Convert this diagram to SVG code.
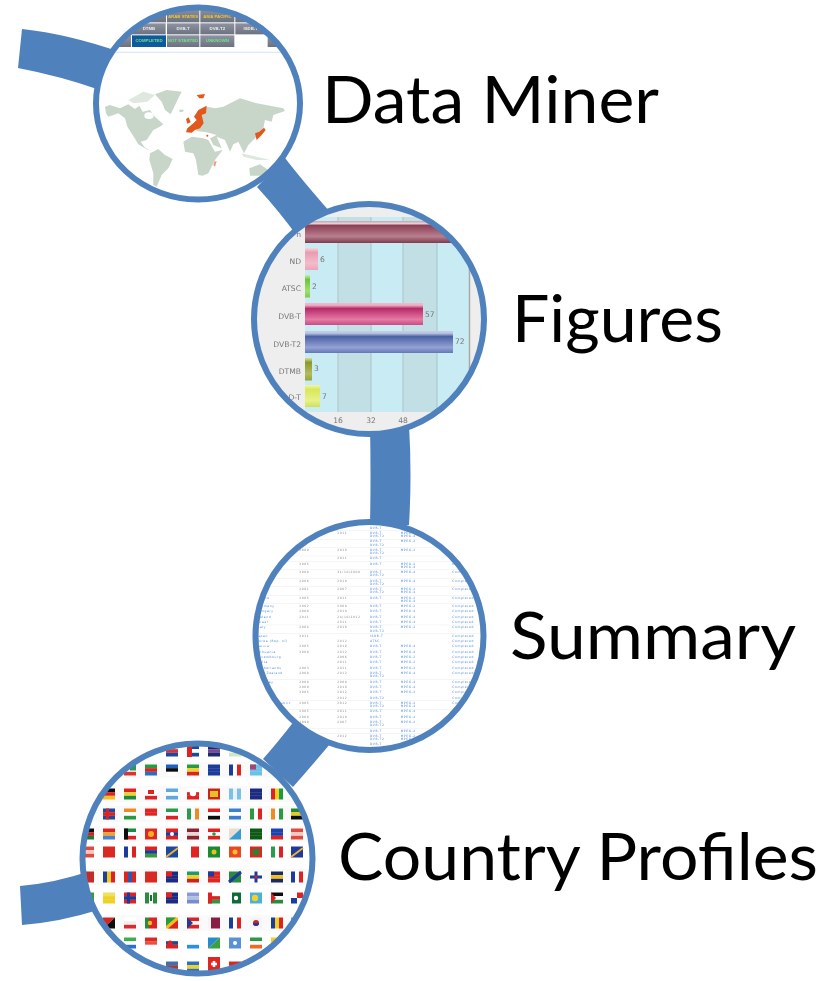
<svg xmlns="http://www.w3.org/2000/svg" xmlns:xlink="http://www.w3.org/1999/xlink" width="837" height="981" viewBox="0 0 837 981">
<style>
.conn{fill:#4f81bd}
.ring{fill:none;stroke:#4f81bd;stroke-width:6}
.lbl{font-family:"Lato","Carlito","Liberation Sans",sans-serif;font-size:66px;fill:#000}
.ch{font-family:"DejaVu Sans",sans-serif;font-size:7.6px;fill:#777}
.tab{font-family:"Liberation Sans",sans-serif;font-size:13px;font-weight:bold;text-anchor:middle}
.tb{font-family:"DejaVu Sans",sans-serif;font-size:9px;letter-spacing:1.8px;fill:#4c88d8}
.yr{fill:#8a8a8a}
</style>
<defs>
<clipPath id="c1"><ellipse cx="198" cy="103.5" rx="102" ry="96"/></clipPath>
<clipPath id="c2"><circle cx="369" cy="319" r="115"/></clipPath>
<clipPath id="c3"><circle cx="369.5" cy="636" r="114"/></clipPath>
<clipPath id="c4"><circle cx="197.5" cy="858.5" r="115"/></clipPath>
<filter id="b1" x="-5%" y="-5%" width="110%" height="110%"><feGaussianBlur stdDeviation="1.4"/></filter>
<filter id="b2" x="-5%" y="-5%" width="110%" height="110%"><feGaussianBlur stdDeviation="0.6"/></filter>
<filter id="b3" x="-5%" y="-5%" width="110%" height="110%"><feGaussianBlur stdDeviation="0.35"/></filter>
<linearGradient id="gm" x1="0" y1="0" x2="0" y2="1"><stop offset="0" stop-color="#c9a3ad"/><stop offset=".12" stop-color="#e8d0d6"/><stop offset=".2" stop-color="#8c3f55"/><stop offset=".7" stop-color="#b87f8e"/><stop offset="1" stop-color="#7d3a4d"/></linearGradient>
<linearGradient id="gp" x1="0" y1="0" x2="0" y2="1"><stop offset="0" stop-color="#f5d5dc"/><stop offset=".2" stop-color="#e89cb0"/><stop offset=".7" stop-color="#f4bccb"/><stop offset="1" stop-color="#e8a6b8"/></linearGradient>
<linearGradient id="gg" x1="0" y1="0" x2="0" y2="1"><stop offset="0" stop-color="#cdeeb0"/><stop offset=".2" stop-color="#6cc53c"/><stop offset=".7" stop-color="#9ee070"/><stop offset="1" stop-color="#7ec850"/></linearGradient>
<linearGradient id="gr" x1="0" y1="0" x2="0" y2="1"><stop offset="0" stop-color="#f0b8cc"/><stop offset=".1" stop-color="#eeb0c6"/><stop offset=".25" stop-color="#b82a68"/><stop offset=".75" stop-color="#e57aa5"/><stop offset="1" stop-color="#c84c80"/></linearGradient>
<linearGradient id="gb" x1="0" y1="0" x2="0" y2="1"><stop offset="0" stop-color="#c5cde6"/><stop offset=".1" stop-color="#bcc5e0"/><stop offset=".25" stop-color="#4c62a6"/><stop offset=".75" stop-color="#94a2d4"/><stop offset="1" stop-color="#6476b4"/></linearGradient>
<linearGradient id="go" x1="0" y1="0" x2="0" y2="1"><stop offset="0" stop-color="#d8dca0"/><stop offset=".2" stop-color="#8a9a28"/><stop offset=".7" stop-color="#b0bc60"/><stop offset="1" stop-color="#96a43c"/></linearGradient>
<linearGradient id="gy" x1="0" y1="0" x2="0" y2="1"><stop offset="0" stop-color="#f2f5b0"/><stop offset=".2" stop-color="#d8e858"/><stop offset=".7" stop-color="#e6f28a"/><stop offset="1" stop-color="#cfe05c"/></linearGradient>
<linearGradient id="tg" x1="0" y1="0" x2="0" y2="1"><stop offset="0" stop-color="#8d93a0"/><stop offset="1" stop-color="#6c7280"/></linearGradient>
<g id="h"><rect x="-6" y="-5.5" width="12" height="3.7" style="fill:var(--a)"/><rect x="-6" y="-1.85" width="12" height="3.7" style="fill:var(--b)"/><rect x="-6" y="1.8" width="12" height="3.7" style="fill:var(--c)"/></g>
<g id="v"><rect x="-6" y="-5.5" width="4" height="11" style="fill:var(--a)"/><rect x="-2" y="-5.5" width="4" height="11" style="fill:var(--b)"/><rect x="2" y="-5.5" width="4" height="11" style="fill:var(--c)"/></g>
</defs>
<rect width="837" height="981" fill="#fff"/>
<g id="connectors">
<path class="conn" d="M22,29Q68,34 120,52L100,90Q60,76 18,68Z"/>
<path class="conn" d="M285,158Q302,180 330,212L300,240Q280,212 257,187Z"/>
<path class="conn" d="M370,425Q371,475 370,525L409,525Q412,475 409,425Z"/>
<path class="conn" d="M263,759Q278,742 295,720L335,738Q315,762 293,787Z"/>
<path class="conn" d="M20,886Q55,883 90,871L98,910Q60,922 22,925Z"/>
</g>
<g id="node-data-miner">
<ellipse cx="198" cy="103.5" rx="102" ry="96" fill="#fff"/>
<g clip-path="url(#c1)"><g transform="scale(.33333)" filter="url(#b1)">
<rect x="400" y="20" width="98" height="47" fill="url(#tg)"/><rect x="501" y="20" width="97" height="47" fill="url(#tg)"/><rect x="601" y="20" width="102" height="47" fill="url(#tg)"/><rect x="706" y="20" width="95" height="47" fill="url(#tg)"/>
<rect x="340" y="70" width="157" height="33" fill="url(#tg)"/><rect x="501" y="70" width="97" height="33" fill="url(#tg)"/><rect x="601" y="70" width="102" height="33" fill="url(#tg)"/><rect x="706" y="70" width="95" height="33" fill="url(#tg)"/>
<rect x="320" y="106" width="73" height="35" fill="url(#tg)"/><rect x="396" y="106" width="102" height="35" fill="#0f5a9e"/><rect x="501" y="106" width="97" height="35" fill="url(#tg)"/><rect x="601" y="106" width="102" height="35" fill="url(#tg)"/><rect x="803" y="106" width="60" height="35" fill="url(#tg)"/>
<text class="tab" x="549" y="54" fill="#e8c83c">ARAB STATES</text><text class="tab" x="652" y="54" fill="#e8c83c">ASIA PACIFIC</text>
<text class="tab" x="447" y="91" fill="#eee">DTMB</text><text class="tab" x="549" y="91" fill="#eee">DVB-T</text><text class="tab" x="652" y="91" fill="#eee">DVB-T2</text><text class="tab" x="752" y="91" fill="#eee">ISDB-T</text>
<text class="tab" x="447" y="127" fill="#6fe08a">COMPLETED</text><text class="tab" x="549" y="127" fill="#6fe08a">NOT STARTED</text><text class="tab" x="652" y="127" fill="#6fe08a">UNKNOWN</text>
<rect x="290" y="155" width="620" height="4" fill="#dce9fb"/>
</g>
<g transform="translate(100 85) scale(.33333)" filter="url(#b1)">
<g fill="#c8d6c9">
<path d="M15,65L30,60L60,70L85,58L105,72L118,62L128,80L150,75L165,95L190,118L178,126L160,135L150,150L140,165L122,170L135,188L152,197L138,192L115,178L98,150L82,125L75,100L55,85L25,95L18,85Z"/>
<path d="M165,28L200,15L245,20L235,40L212,88L195,75L185,50Z"/>
<path d="M236,74L252,74L248,81L240,81Z"/>
<path d="M150,205L175,192L195,210L218,222L205,250L185,270L170,305L160,300L160,265L148,225Z"/>
<path d="M250,170L275,155L310,160L325,165L345,200L368,195L345,225L325,265L308,272L295,270L288,225L280,205L255,200Z"/>
<path d="M290,115L300,80L320,65L345,70L370,65L420,40L470,55L550,70L555,78L520,90L515,110L495,105L490,130L465,160L445,180L432,205L415,170L400,178L390,200L375,165L350,155L365,190L340,180L330,160L350,150L320,142L290,138Z"/>
<path d="M448,250L480,238L505,255L490,272L450,272Z"/>
</g>
<path d="M85,45L130,20L165,30L142,50L100,55Z" fill="#dfe8df"/>
<path d="M425,205L470,215L510,225L470,225L430,215Z" fill="#dfe8df"/>
<ellipse cx="147" cy="92" rx="14" ry="10" fill="#fff"/>
<g fill="#e2591c">
<path d="M258,142L262,130L280,115L290,105L282,95L295,75L320,62L318,85L305,90L311,115L300,130L285,135L275,143Z"/>
<path d="M258,102L266,97L272,112L262,116Z"/>
<path d="M290,30L315,27L310,40L298,40Z"/>
<path d="M465,145L478,140L492,128L497,135L485,150L470,165Z"/>
<circle cx="322" cy="152" r="3"/>
<path d="M343,230L350,228L345,245L340,240Z" opacity=".6"/>
</g>
</g></g>
<ellipse class="ring" cx="198" cy="103.5" rx="102" ry="96"/>
<text class="lbl" x="322" y="123" textLength="337" lengthAdjust="spacingAndGlyphs">Data Miner</text>
</g>
<g id="node-figures">
<circle cx="369" cy="319" r="115" fill="#eee"/>
<g clip-path="url(#c2)"><g filter="url(#b3)">
<rect x="305" y="217" width="33" height="195" fill="#c9ebf3"/><rect x="338" y="217" width="33" height="195" fill="#c2dfe6"/><rect x="371" y="217" width="32" height="195" fill="#c9ebf3"/><rect x="403" y="217" width="34" height="195" fill="#c2dfe6"/><rect x="437" y="217" width="32" height="195" fill="#c9ebf3"/>
<path d="M338,217V412M371,217V412M403,217V412M437,217V412" stroke="#a9c3ca" stroke-width="1" fill="none"/>
<path d="M469.500,217V412" stroke="#a8a8a8" stroke-width="1.500" fill="none"/>
<rect x="305" y="221" width="160" height="22" fill="url(#gm)"/>
<rect x="305" y="248" width="13" height="22" fill="url(#gp)"/>
<rect x="305" y="275" width="5" height="22.500" fill="url(#gg)"/>
<rect x="305" y="303" width="118" height="22" fill="url(#gr)"/>
<rect x="305" y="331" width="148" height="22" fill="url(#gb)"/>
<rect x="305" y="358" width="7" height="22.500" fill="url(#go)"/>
<rect x="305" y="385" width="15" height="22" fill="url(#gy)"/>
<g text-anchor="end">
<text class="ch" x="301" y="237">n</text><text class="ch" x="301" y="264">ND</text><text class="ch" x="301" y="291">ATSC</text><text class="ch" x="301" y="319">DVB-T</text><text class="ch" x="301" y="347">DVB-T2</text><text class="ch" x="301" y="374">DTMB</text><text class="ch" x="301" y="400">D-T</text>
</g>
<text class="ch" x="320" y="262">6</text><text class="ch" x="312" y="289">2</text><text class="ch" x="425" y="317">57</text><text class="ch" x="455" y="344">72</text><text class="ch" x="314" y="371">3</text><text class="ch" x="322" y="399">7</text>
<g text-anchor="middle"><text class="ch" x="338" y="423">16</text><text class="ch" x="371" y="423">32</text><text class="ch" x="403" y="423">48</text></g>
</g></g>
<circle class="ring" cx="369" cy="319" r="115"/>
<text class="lbl" x="512" y="342" textLength="211" lengthAdjust="spacingAndGlyphs">Figures</text>
</g>
<g id="node-summary">
<circle cx="369.5" cy="636" r="114" fill="#fff"/>
<g clip-path="url(#c3)"><g transform="translate(250 515) scale(.33333)" filter="url(#b1)">
<g fill="#f0f0f0"><rect y="46" width="700" height="2"/><rect y="72" width="700" height="2"/><rect y="96" width="700" height="2"/><rect y="122" width="700" height="2"/><rect y="138" width="700" height="2"/><rect y="163" width="700" height="2"/><rect y="189" width="700" height="2"/><rect y="214" width="700" height="2"/><rect y="240" width="700" height="2"/><rect y="265" width="700" height="2"/><rect y="329" width="700" height="2"/><rect y="354" width="700" height="2"/><rect y="492" width="700" height="2"/><rect y="556" width="700" height="2"/><rect y="582" width="700" height="2"/><rect y="639" width="700" height="2"/><rect y="655" width="700" height="2"/></g>
<g class="tb">
<text y="43"><tspan x="360">DVB-T</tspan></text>
<text y="57"><tspan class="yr" x="262">2011</tspan><tspan x="360">DVB-T</tspan><tspan x="452">MPEG-2</tspan></text>
<text y="67"><tspan x="360">DVB-T2</tspan><tspan x="452">MPEG-4</tspan></text>
<text y="82"><tspan class="yr" x="148">2006</tspan><tspan x="360">DVB-T</tspan><tspan x="452">MPEG-2</tspan></text>
<text y="92"><tspan x="360">DVB-T2</tspan></text>
<text y="107"><tspan class="yr" x="148">2009</tspan><tspan class="yr" x="262">2010</tspan><tspan x="360">DVB-T</tspan><tspan x="452">MPEG-2</tspan></text>
<text y="117"><tspan x="360">DVB-T2</tspan></text>
<text y="133"><tspan class="yr" x="262">2011</tspan><tspan x="360">DVB-T</tspan></text>
<text y="149"><tspan class="yr" x="148">2005</tspan><tspan x="360">DVB-T</tspan><tspan x="452">MPEG-2</tspan><tspan x="607">Com</tspan></text>
<text y="159"><tspan x="452">MPEG-4</tspan></text>
<text y="174"><tspan class="yr" x="148">2000</tspan><tspan class="yr" x="262">31/10/2008</tspan><tspan x="360">DVB-T</tspan><tspan x="452">MPEG-4</tspan><tspan x="607">Completed</tspan></text>
<text y="184"><tspan x="360">DVB-T2</tspan></text>
<text y="200"><tspan x="20">e</tspan><tspan class="yr" x="148">2006</tspan><tspan class="yr" x="262">2010</tspan><tspan x="360">DVB-T</tspan><tspan x="452">MPEG-4</tspan><tspan x="607">Completed</tspan></text>
<text y="210"><tspan x="360">DVB-T2</tspan></text>
<text y="225"><tspan x="20">nd</tspan><tspan class="yr" x="148">2001</tspan><tspan class="yr" x="262">2007</tspan><tspan x="360">DVB-T</tspan><tspan x="452">MPEG-2</tspan><tspan x="607">Completed</tspan></text>
<text y="235"><tspan x="360">DVB-T2</tspan><tspan x="452">MPEG-4</tspan></text>
<text y="251"><tspan x="30">ance</tspan><tspan class="yr" x="148">2005</tspan><tspan class="yr" x="262">2011</tspan><tspan x="360">DVB-T</tspan><tspan x="452">MPEG-2</tspan><tspan x="607">Completed</tspan></text>
<text y="261"><tspan x="452">MPEG-4</tspan></text>
<text y="276"><tspan x="20">Germany</tspan><tspan class="yr" x="148">2002</tspan><tspan class="yr" x="262">2008</tspan><tspan x="360">DVB-T</tspan><tspan x="452">MPEG-2</tspan><tspan x="607">Completed</tspan></text>
<text y="292"><tspan x="20">Hungary</tspan><tspan class="yr" x="148">2008</tspan><tspan class="yr" x="262">2010</tspan><tspan x="360">DVB-T</tspan><tspan x="452">MPEG-4</tspan><tspan x="607">Completed</tspan></text>
<text y="308"><tspan x="20">Ireland</tspan><tspan class="yr" x="148">2011</tspan><tspan class="yr" x="262">24/10/2012</tspan><tspan x="360">DVB-T</tspan><tspan x="452">MPEG-4</tspan><tspan x="607">Completed</tspan></text>
<text y="324"><tspan x="20">Israel</tspan><tspan class="yr" x="262">2011</tspan><tspan x="360">DVB-T</tspan><tspan x="452">MPEG-4</tspan><tspan x="607">Completed</tspan></text>
<text y="340"><tspan x="20">Italy</tspan><tspan class="yr" x="148">2004</tspan><tspan class="yr" x="262">2010</tspan><tspan x="360">DVB-T</tspan><tspan x="452">MPEG-2</tspan><tspan x="607">Completed</tspan></text>
<text y="350"><tspan x="360">DVB-T2</tspan></text>
<text y="365"><tspan x="20">Japan</tspan><tspan class="yr" x="148">2011</tspan><tspan x="360">ISDB-T</tspan><tspan x="607">Completed</tspan></text>
<text y="381"><tspan x="20">Korea (Rep. of)</tspan><tspan class="yr" x="262">2012</tspan><tspan x="360">ATSC</tspan><tspan x="607">Completed</tspan></text>
<text y="397"><tspan x="20">Latvia</tspan><tspan class="yr" x="148">2005</tspan><tspan class="yr" x="262">2010</tspan><tspan x="360">DVB-T</tspan><tspan x="452">MPEG-4</tspan><tspan x="607">Completed</tspan></text>
<text y="413"><tspan x="20">Lithuania</tspan><tspan class="yr" x="148">2008</tspan><tspan class="yr" x="262">2012</tspan><tspan x="360">DVB-T</tspan><tspan x="452">MPEG-4</tspan><tspan x="607">Completed</tspan></text>
<text y="429"><tspan x="20">Luxembourg</tspan><tspan class="yr" x="262">2006</tspan><tspan x="360">DVB-T</tspan><tspan x="452">MPEG-2</tspan><tspan x="607">Completed</tspan></text>
<text y="445"><tspan x="20">Malta</tspan><tspan class="yr" x="262">2011</tspan><tspan x="360">DVB-T</tspan><tspan x="452">MPEG-2</tspan><tspan x="607">Completed</tspan></text>
<text y="461"><tspan x="20">Netherlands</tspan><tspan class="yr" x="148">2003</tspan><tspan class="yr" x="262">2011</tspan><tspan x="360">DVB-T</tspan><tspan x="452">MPEG-2</tspan><tspan x="607">Completed</tspan></text>
<text y="477"><tspan x="20">New Zealand</tspan><tspan class="yr" x="148">2008</tspan><tspan class="yr" x="262">2012</tspan><tspan x="360">DVB-T</tspan><tspan x="452">MPEG-4</tspan><tspan x="607">Completed</tspan></text>
<text y="487"><tspan x="360">DVB-T2</tspan></text>
<text y="503"><tspan x="42">rway</tspan><tspan class="yr" x="148">2008</tspan><tspan class="yr" x="262">2009</tspan><tspan x="360">DVB-T</tspan><tspan x="452">MPEG-4</tspan><tspan x="607">Completed</tspan></text>
<text y="519"><tspan x="42">and</tspan><tspan class="yr" x="148">2009</tspan><tspan class="yr" x="262">2010</tspan><tspan x="360">DVB-T</tspan><tspan x="452">MPEG-4</tspan><tspan x="607">Completed</tspan></text>
<text y="535"><tspan x="42">gal</tspan><tspan class="yr" x="148">2005</tspan><tspan class="yr" x="262">2012</tspan><tspan x="360">DVB-T</tspan><tspan x="452">MPEG-2</tspan><tspan x="607">Completed</tspan></text>
<text y="551"><tspan x="55">tar</tspan><tspan class="yr" x="262">2012</tspan><tspan x="360">DVB-T2</tspan><tspan x="607">Completed</tspan></text>
<text y="567"><tspan x="58">h Republic</tspan><tspan class="yr" x="148">2005</tspan><tspan class="yr" x="262">2012</tspan><tspan x="360">DVB-T</tspan><tspan x="452">MPEG-2</tspan><tspan x="607">Com</tspan></text>
<text y="577"><tspan x="360">DVB-T2</tspan><tspan x="452">MPEG-4</tspan></text>
<text y="592"><tspan class="yr" x="148">2005</tspan><tspan class="yr" x="262">2011</tspan><tspan x="360">DVB-T</tspan><tspan x="452">MPEG-4</tspan></text>
<text y="608"><tspan class="yr" x="148">2000</tspan><tspan class="yr" x="262">2010</tspan><tspan x="360">DVB-T</tspan><tspan x="452">MPEG-2</tspan></text>
<text y="624"><tspan class="yr" x="148">1999</tspan><tspan class="yr" x="262">2007</tspan><tspan x="360">DVB-T</tspan><tspan x="452">MPEG-2</tspan></text>
<text y="634"><tspan x="360">DVB-T2</tspan></text>
<text y="650"><tspan x="360">DVB-T</tspan><tspan x="452">MPEG-2</tspan></text>
<text y="666"><tspan class="yr" x="262">2012</tspan><tspan x="360">DVB-T</tspan><tspan x="452">MPEG-2</tspan></text>
<text y="676"><tspan x="360">DVB-T2</tspan><tspan x="452">MPEG-4</tspan></text>
<text y="691"><tspan x="360">DVB-T</tspan></text>
</g>
</g></g>
<circle class="ring" cx="369.5" cy="636" r="114"/>
<text class="lbl" x="510" y="659" textLength="286" lengthAdjust="spacingAndGlyphs">Summary</text>
</g>
<g id="node-country-profiles">
<circle cx="197.5" cy="858.5" r="115" fill="#fff"/>
<g clip-path="url(#c4)"><g filter="url(#b2)">
<g fill="#fafafa"><rect x="80" y="762" width="236" height="16"/><rect x="80" y="786" width="236" height="16"/><rect x="80" y="806" width="236" height="16"/><rect x="80" y="826" width="236" height="16"/><rect x="80" y="869" width="236" height="16"/><rect x="80" y="915" width="236" height="16"/></g>
<use href="#h" x="172" y="751" style="--a:#fff;--b:#d33;--c:#1a4aa0"/>
<use href="#h" x="193" y="751" style="--a:#1a4aa0;--b:#fff;--c:#1a4aa0"/><rect x="187" y="746" width="5" height="11" fill="#d22"/>
<use href="#h" x="214" y="751" style="--a:#1a2a70;--b:#7a4a90;--c:#1a2a70"/>
<use href="#h" x="235" y="751" style="--a:#fff;--b:#f5f5e0;--c:#cde8c8"/>
<use href="#h" x="130" y="770" style="--a:#fff;--b:#fff;--c:#d33"/><rect x="130" y="764.500" width="6" height="6" fill="#2a9a50"/>
<use href="#h" x="151" y="770" style="--a:#2a9a40;--b:#d22;--c:#2a70c0"/>
<use href="#h" x="172" y="770" style="--a:#1a60c0;--b:#111;--c:#fff"/>
<use href="#h" x="193" y="770" style="--a:#2a9a40;--b:#f0d030;--c:#d22"/>
<use href="#h" x="214" y="770" style="--a:#1a3a9a;--b:#1a3a9a;--c:#1a3a9a"/>
<use href="#v" x="235" y="770" style="--a:#1a3a9a;--b:#fff;--c:#d22"/>
<use href="#h" x="256" y="770" style="--a:#6cbfe8;--b:#6cbfe8;--c:#6cbfe8"/><rect x="250" y="764.500" width="6" height="5" fill="#a04a70"/>
<use href="#h" x="109" y="794" style="--a:#111;--b:#d22;--c:#f2c020"/>
<use href="#h" x="130" y="794" style="--a:#d22;--b:#f2d030;--c:#1a8a40"/>
<use href="#h" x="151" y="794" style="--a:#fff;--b:#fff;--c:#d22"/><rect x="148" y="790" width="6" height="4" fill="#d22"/>
<use href="#h" x="172" y="794" style="--a:#5fa8e0;--b:#fff;--c:#5fa8e0"/>
<use href="#h" x="193" y="794" style="--a:#fff;--b:#d22;--c:#d22"/><circle cx="193" cy="793" r="3.200" fill="#fff"/>
<rect x="208" y="788.500" width="12" height="11" fill="#c8281c"/><rect x="210" y="791" width="8" height="6" fill="#e8c020"/>
<use href="#v" x="235" y="794" style="--a:#7cc0e8;--b:#e8f2f8;--c:#7cc0e8"/>
<use href="#h" x="256" y="794" style="--a:#1a2a80;--b:#1a2a80;--c:#1a2a80"/>
<use href="#v" x="277" y="794" style="--a:#d22;--b:#f0d020;--c:#1a9a40"/>
<use href="#h" x="109" y="814" style="--a:#1a4ca0;--b:#d22;--c:#1a4ca0"/><rect x="106" y="808.500" width="3" height="11" fill="#d22"/>
<use href="#h" x="130" y="814" style="--a:#f08a20;--b:#fff;--c:#2a9a40"/>
<use href="#h" x="151" y="814" style="--a:#e02820;--b:#e02820;--c:#fff"/>
<use href="#h" x="172" y="814" style="--a:#2a9a50;--b:#fff;--c:#d22"/>
<use href="#v" x="193" y="814" style="--a:#2a9a50;--b:#fff;--c:#f08a20"/>
<use href="#h" x="214" y="814" style="--a:#d22;--b:#fff;--c:#111"/>
<use href="#h" x="235" y="814" style="--a:#3a80d0;--b:#fff;--c:#3a80d0"/>
<use href="#v" x="256" y="814" style="--a:#2a9a40;--b:#fff;--c:#d22"/>
<use href="#v" x="277" y="814" style="--a:#f08a20;--b:#fff;--c:#2a9a40"/>
<use href="#h" x="297" y="814" style="--a:#1a8a30;--b:#e8c820;--c:#111"/>
<use href="#h" x="88" y="834" style="--a:#111;--b:#c22;--c:#1a7a30"/>
<use href="#h" x="109" y="834" style="--a:#d22;--b:#f2a030;--c:#4a80d0"/>
<use href="#h" x="130" y="834" style="--a:#1a8a40;--b:#fff;--c:#d22"/><rect x="124" y="828.500" width="4" height="11" fill="#111"/>
<rect x="145" y="828.500" width="12" height="11" fill="#e02820"/><circle cx="151" cy="834" r="3" fill="#f0b020"/>
<use href="#h" x="172" y="834" style="--a:#d22;--b:#1a3a9a;--c:#d22"/><circle cx="172" cy="834" r="2" fill="#fff"/>
<use href="#h" x="193" y="834" style="--a:#8a2030;--b:#e8d8d8;--c:#8a2030"/>
<use href="#h" x="214" y="834" style="--a:#d22;--b:#fff;--c:#d22"/><circle cx="214" cy="834" r="1.800" fill="#2a9a40"/>
<path d="M229,828.500h12L229,839.500Z" fill="#e8ddd0"/><path d="M241,828.500v11h-12Z" fill="#3a9ad0"/>
<use href="#h" x="256" y="834" style="--a:#0f5a14;--b:#0f5a14;--c:#0f5a14"/>
<use href="#h" x="277" y="834" style="--a:#1a40b0;--b:#1a40b0;--c:#d22"/>
<use href="#h" x="297" y="834" style="--a:#e04a40;--b:#f8c8c0;--c:#e04a40"/>
<use href="#h" x="88" y="852" style="--a:#e04a40;--b:#f8c8c0;--c:#e04a40"/>
<rect x="103" y="846.500" width="12" height="11" fill="#d82a20"/>
<use href="#v" x="130" y="852" style="--a:#1a3a9a;--b:#fff;--c:#d22"/>
<use href="#h" x="151" y="852" style="--a:#d22;--b:#1a3a9a;--c:#3a9a40"/>
<path d="M166,846.500h12v11h-12Z" fill="#1a4aa0"/><path d="M166,857L178,848" stroke="#f0b030" stroke-width="2"/>
<use href="#v" x="193" y="852" style="--a:#fff;--b:#e02820;--c:#e02820"/>
<rect x="208" y="846.500" width="12" height="11" fill="#1a8a30"/><circle cx="214" cy="852" r="2.500" fill="#e8c020"/>
<rect x="229" y="846.500" width="12" height="11" fill="#e84a20"/><circle cx="235" cy="852" r="2.500" fill="#f0c030"/>
<rect x="250" y="846.500" width="12" height="11" fill="#d82a20"/><rect x="253" y="849" width="6" height="6" fill="#1a8a30"/>
<use href="#v" x="277" y="852" style="--a:#2a9a50;--b:#fff;--c:#d22"/>
<path d="M291,846.500h12v11h-12Z" fill="#1a3a9a"/><path d="M291,857L303,848" stroke="#f0b030" stroke-width="2"/>
<rect x="82" y="871.500" width="12" height="11" fill="#c62a20"/>
<use href="#v" x="109" y="877" style="--a:#1a40a0;--b:#f0c820;--c:#d22"/>
<use href="#v" x="130" y="877" style="--a:#d22;--b:#2a5ab0;--c:#d22"/>
<rect x="145" y="871.500" width="12" height="11" fill="#d82a20"/>
<use href="#h" x="172" y="877" style="--a:#1a2a80;--b:#1a2a80;--c:#1a2a80"/><rect x="166" y="871.500" width="6" height="5" fill="#d22"/>
<use href="#h" x="193" y="877" style="--a:#1a9a70;--b:#f0d020;--c:#c22"/>
<use href="#h" x="214" y="877" style="--a:#e02820;--b:#e02820;--c:#e02820"/><rect x="208" y="871.500" width="6" height="5" fill="#1a3a9a"/>
<path d="M229,871.500h12v11h-12Z" fill="#2a8a40"/><path d="M229,882L241,872" stroke="#1a3a9a" stroke-width="3"/>
<rect x="250" y="871.500" width="12" height="11" fill="#fff"/><path d="M250,877h12M256,871.500v11" stroke="#1a3a9a" stroke-width="3"/><circle cx="256" cy="877" r="1.500" fill="#d22"/>
<use href="#h" x="277" y="877" style="--a:#1a2a60;--b:#f0c020;--c:#1a2a60"/>
<use href="#v" x="297" y="877" style="--a:#1a3a9a;--b:#fff;--c:#d22"/>
<rect x="82" y="892.500" width="12" height="11" fill="#3a9a30"/>
<use href="#h" x="109" y="898" style="--a:#f0e060;--b:#f0d020;--c:#f0d020"/>
<use href="#h" x="130" y="898" style="--a:#d22;--b:#1a3a9a;--c:#d22"/><rect x="127" y="892.500" width="3" height="11" fill="#1a3a9a"/>
<use href="#v" x="151" y="898" style="--a:#2a8a40;--b:#f8f8f8;--c:#2a8a40"/><rect x="150" y="895" width="2" height="6" fill="#1a6a30"/>
<use href="#h" x="172" y="898" style="--a:#1a2a80;--b:#1a2a80;--c:#1a2a80"/><rect x="166" y="892.500" width="6" height="5" fill="#d22"/>
<use href="#h" x="193" y="898" style="--a:#8a9ad8;--b:#b0c0e0;--c:#7a8ad0"/>
<use href="#h" x="214" y="898" style="--a:#fff;--b:#d22;--c:#2a9a40"/><rect x="208" y="892.500" width="4" height="11" fill="#d22"/>
<rect x="229" y="892.500" width="3" height="11" fill="#fff"/><rect x="232" y="892.500" width="9" height="11" fill="#0f6a3a"/><circle cx="236" cy="898" r="2.200" fill="#fff"/>
<rect x="250" y="892.500" width="12" height="11" fill="#4ab0e0"/><circle cx="255" cy="898" r="3.200" fill="#f4d020"/>
<use href="#h" x="277" y="898" style="--a:#111;--b:#fff;--c:#2a8a40"/><path d="M271,892.500l5,5.500l-5,5.500Z" fill="#d22"/>
<rect x="291" y="892.500" width="6" height="5.500" fill="#fff"/><rect x="297" y="892.500" width="6" height="5.500" fill="#d22"/><rect x="291" y="898" width="6" height="5.500" fill="#1a3a9a"/><rect x="297" y="898" width="6" height="5.500" fill="#fff"/>
<path d="M103,917.500h12L103,928.500Z" fill="#d22"/><path d="M115,917.500v11h-12Z" fill="#111"/>
<use href="#h" x="130" y="923" style="--a:#fff;--b:#f4f0f0;--c:#d82a30"/>
<use href="#v" x="151" y="923" style="--a:#2a8a40;--b:#d22;--c:#d22"/><circle cx="150" cy="923" r="2.200" fill="#f0c020"/>
<path d="M166,917.500h12v11h-12Z" fill="#f0c020"/><path d="M166,917.500h10L166,926Z" fill="#2a9a40"/><path d="M178,928.500h-10L178,920Z" fill="#d22"/>
<use href="#h" x="193" y="923" style="--a:#d22;--b:#f4f4f4;--c:#d22"/><path d="M187,917.500l6,5.500l-6,5.500Z" fill="#1a3a9a"/>
<rect x="208" y="917.500" width="3" height="11" fill="#f4f4f4"/><rect x="211" y="917.500" width="9" height="11" fill="#8a1f44"/>
<use href="#v" x="235" y="923" style="--a:#1a3a9a;--b:#fff;--c:#d22"/>
<rect x="250" y="917.500" width="12" height="11" fill="#f4f4f4"/><circle cx="256" cy="923" r="3" fill="#c22"/><path d="M253,923a3,3 0 0 0 6,0Z" fill="#1a3a9a"/>
<use href="#v" x="277" y="923" style="--a:#1a3a9a;--b:#f0d020;--c:#d22"/>
<use href="#h" x="297" y="923" style="--a:#3ab0e0;--b:#3ab0e0;--c:#3ab0e0"/>
<use href="#h" x="130" y="943" style="--a:#3ab04a;--b:#fff;--c:#2a70d0"/>
<use href="#h" x="151" y="943" style="--a:#e02820;--b:#e85040;--c:#fff"/>
<use href="#h" x="172" y="943" style="--a:#fff;--b:#1a4aa0;--c:#d22"/><circle cx="170" cy="943" r="2.500" fill="#d22"/>
<use href="#h" x="193" y="943" style="--a:#fff;--b:#fff;--c:#2a90e0"/>
<path d="M208,937.500h12L208,948.500Z" fill="#2a8ad0"/><path d="M220,937.500v11h-12Z" fill="#3aa040"/>
<rect x="229" y="937.500" width="12" height="11" fill="#5a90d8"/><circle cx="235" cy="943" r="2" fill="#fff"/>
<use href="#h" x="256" y="943" style="--a:#2a9a40;--b:#fff;--c:#f06a20"/>
<use href="#v" x="277" y="943" style="--a:#f0d020;--b:#f0d020;--c:#d22"/>
<use href="#h" x="172" y="967" style="--a:#3a70c0;--b:#a04030;--c:#3a70c0"/>
<use href="#h" x="193" y="967" style="--a:#2a70c0;--b:#f0d020;--c:#2a70c0"/>
<rect x="208" y="957" width="12" height="14" fill="#e02820"/><path d="M214,961v6M211,964h6" stroke="#fff" stroke-width="2.500"/>
<use href="#h" x="235" y="967" style="--a:#e02820;--b:#e02820;--c:#e02820"/>
</g></g>
<circle class="ring" cx="197.5" cy="858.5" r="115"/>
<text class="lbl" x="338" y="880" textLength="480" lengthAdjust="spacingAndGlyphs">Country Profiles</text>
</g>
</svg>
